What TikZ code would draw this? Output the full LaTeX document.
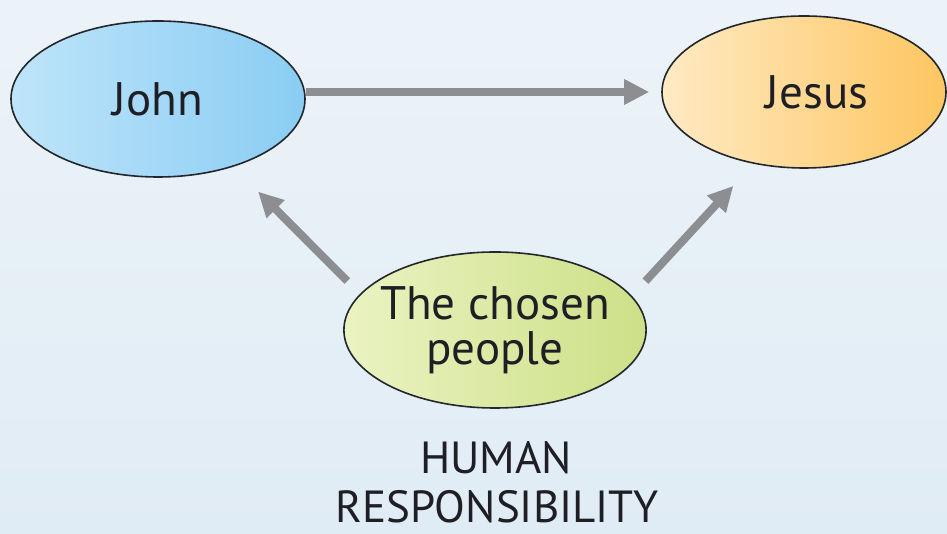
\documentclass[tikz,border=0pt]{standalone}
\usepackage{fontspec}
\setmainfont{PT Sans}
\usetikzlibrary{shapes.geometric,arrows.meta}

\definecolor{bgblue}{RGB}{224,236,245}
\definecolor{bgpale}{RGB}{236,243,248}
\definecolor{inkline}{RGB}{35,38,42}
\definecolor{inktext}{RGB}{30,30,36}
\definecolor{arrowgray}{RGB}{140,142,146}
\definecolor{johnlight}{RGB}{190,228,250}
\definecolor{johndark}{RGB}{138,205,243}
\definecolor{jesuslight}{RGB}{255,234,196}
\definecolor{jesusdark}{RGB}{253,198,96}
\definecolor{chosenlight}{RGB}{234,243,194}
\definecolor{chosendark}{RGB}{205,224,135}

\begin{document}
\begin{tikzpicture}[x=1pt,y=1pt,
  bubble/.style={ellipse,draw=inkline,line width=1.6pt,inner sep=0pt,align=center,
    text=inktext,font=\fontsize{47}{45}\selectfont},
  push/.style={draw=arrowgray,line width=8pt,-{Triangle[length=25pt,width=24pt]}},
  caption/.style={anchor=base,inner sep=0pt,text=inktext,font=\fontsize{45}{45}\selectfont}]
\useasboundingbox (0,0) rectangle (947,534);
\shade[top color=bgpale,bottom color=bgblue] (0,0) rectangle (947,534);
% the three people
\node[bubble,minimum width=294pt,minimum height=156pt,
  left color=johnlight,right color=johndark] (john) at (158,435) {John};
\node[bubble,minimum width=284pt,minimum height=152pt,
  left color=jesuslight,right color=jesusdark] (jesus) at (804,442) {\hspace*{26pt}Jesus};
\node[bubble,minimum width=296pt,minimum height=156pt,inner xsep=-8pt,
  left color=chosenlight,right color=chosendark] (chosen) at (495,204) {The chosen\\people};
% arrows
\draw[push,shorten >=12pt] (john.east |- jesus.west) -- (jesus.west);
\draw[push,shorten <=18pt,shorten >=35pt] (chosen.165) -- (john.-42);
\draw[push,shorten <=20pt,shorten >=30pt] (chosen.14) -- (jesus.235);
% caption
\node[caption] (human) at (496,60) {HUMAN};
\node[caption] (resp) at (497,11) {RESPONSIBILITY};
\end{tikzpicture}
\end{document}
